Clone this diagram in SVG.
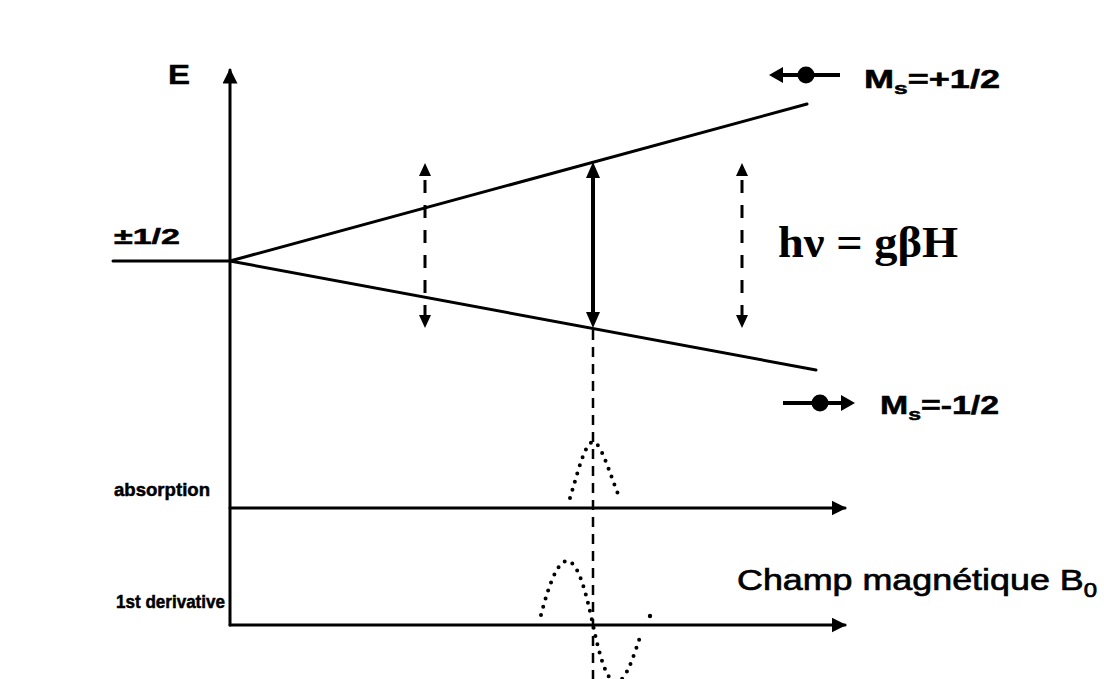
<svg xmlns="http://www.w3.org/2000/svg" width="1104" height="679" viewBox="0 0 1104 679">
<style>
.ln{stroke:#000;stroke-width:3;fill:none;stroke-linecap:round}
.dash{stroke:#000;stroke-width:3;fill:none;stroke-dasharray:13 12}
.dot{stroke:#000;stroke-width:4;fill:none;stroke-dasharray:0 8.5;stroke-linecap:round}
.lbl{font-family:"Liberation Sans",Arial,sans-serif;font-weight:bold;fill:#000;stroke:#000;stroke-width:0.5}
.reg{font-family:"Liberation Sans",Arial,sans-serif;font-weight:normal;fill:#000;stroke:#000;stroke-width:0.7}
.ser{font-family:"Liberation Serif","Times New Roman",serif;font-weight:bold;fill:#000}
</style>
<defs>
<marker id="ah" viewBox="0 0 10 10" refX="9" refY="5" markerWidth="5" markerHeight="5" orient="auto-start-reverse" markerUnits="strokeWidth">
<path d="M0,0 L10,5 L0,10 z" fill="#000"/>
</marker>
</defs>
<rect width="1104" height="679" fill="#fff"/>

<g id="axes">
<path class="ln" d="M230,625 L230,70" marker-end="url(#ah)"/>
<path class="ln" d="M230,508 L845,508" marker-end="url(#ah)"/>
<path class="ln" d="M230,625 L845,625" marker-end="url(#ah)"/>
</g>

<g id="levels">
<line class="ln" x1="113" y1="261" x2="230" y2="261"/>
<line class="ln" x1="230" y1="261" x2="807" y2="104"/>
<line class="ln" x1="230" y1="261" x2="816" y2="370"/>
</g>

<g id="connectors">
<path d="M425,163 L419,176 L431,176 z M425,328 L419,315 L431,315 z" fill="#000"/>
<line class="dash" x1="425" y1="180" x2="425" y2="316"/>
<path d="M742,163 L736,176 L748,176 z M742,328 L736,315 L748,315 z" fill="#000"/>
<line class="dash" x1="742" y1="180" x2="742" y2="316"/>
<line x1="593" y1="176" x2="593" y2="314" stroke="#000" stroke-width="4"/>
<path d="M593,162 L586,178 L600,178 z M593,328 L586,312 L600,312 z" fill="#000"/>
<line x1="593" y1="330" x2="593" y2="679" stroke="#000" stroke-width="2.5" stroke-dasharray="10 7"/>
</g>

<g id="absorption-curve">
<path class="dot" d="M570,498 C578,472 585,442 593,442 C601,442 609,472 620,499"/>
</g>
<g id="derivative-curve">
<path class="dot" d="M541,615 C548,588 557,561 567,561 C578,561 586,592 593,625 C600,658 607,682 616,682 C626,682 634,655 641,634"/>
<circle cx="650" cy="616" r="2.2" fill="#000"/>
</g>

<g id="spin-up">
<line x1="778" y1="75" x2="840" y2="75" stroke="#000" stroke-width="4"/>
<path d="M769,75 L783,67 L783,83 z" fill="#000"/>
<circle cx="806" cy="75" r="8.5" fill="#000"/>
<text class="lbl" x="864" y="88" font-size="25" textLength="136" lengthAdjust="spacingAndGlyphs">M<tspan font-size="17" dy="6">s</tspan><tspan dy="-6">=+1/2</tspan></text>
</g>

<g id="spin-down">
<line x1="783" y1="403" x2="845" y2="403" stroke="#000" stroke-width="4"/>
<path d="M855,403 L841,395 L841,411 z" fill="#000"/>
<circle cx="820" cy="403" r="8.5" fill="#000"/>
<text class="lbl" x="880" y="414" font-size="25" textLength="119" lengthAdjust="spacingAndGlyphs">M<tspan font-size="17" dy="6">s</tspan><tspan dy="-6">=-1/2</tspan></text>
</g>

<g id="labels">
<text class="lbl" x="168" y="84" font-size="27" textLength="22" lengthAdjust="spacingAndGlyphs">E</text>
<text class="lbl" x="114" y="244" font-size="22" textLength="66" lengthAdjust="spacingAndGlyphs">±1/2</text>
<text class="ser" x="778" y="257" font-size="45" textLength="180" lengthAdjust="spacingAndGlyphs">hν = gβH</text>
<text class="lbl" x="114" y="496" font-size="19" textLength="96" lengthAdjust="spacingAndGlyphs">absorption</text>
<text class="lbl" x="116" y="608" font-size="19" textLength="109" lengthAdjust="spacingAndGlyphs">1st derivative</text>
<text class="reg" x="737" y="590" font-size="30" textLength="360" lengthAdjust="spacingAndGlyphs">Champ magnétique B<tspan font-size="20" dy="7">0</tspan></text>
</g>
</svg>
